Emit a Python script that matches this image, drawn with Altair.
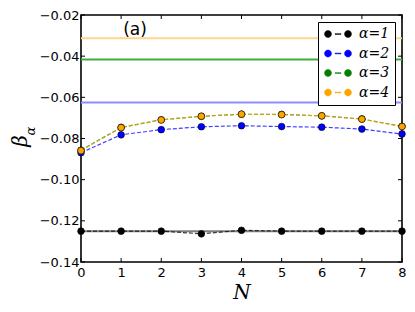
import altair as alt
import pandas as pd

N = [0, 1, 2, 3, 4, 5, 6, 7, 8]
beta1 = [-0.125, -0.125, -0.125, -0.1263, -0.1246, -0.125, -0.125, -0.125, -0.125]
beta2 = [-0.0869, -0.0782, -0.0757, -0.0743, -0.0738, -0.0742, -0.0745, -0.0754, -0.0778]
beta3 = [-0.0857, -0.0746, -0.0709, -0.0692, -0.0682, -0.0683, -0.0690, -0.0705, -0.0741]
beta4 = [-0.0859, -0.0747, -0.0710, -0.0692, -0.0682, -0.0684, -0.0690, -0.0706, -0.0742]
series_names = ["α=1", "α=2", "α=3", "α=4"]
series_colors = ["#000000", "#0000ff", "#008000", "#ffa500"]
limits = [-0.125, -0.0625, -0.041667, -0.03125]
limit_colors = ["#808080", "#8c8cff", "#3caf3c", "#fdd58c"]
x_ticks = [0, 1, 2, 3, 4, 5, 6, 7, 8]
y_ticks = [-0.14, -0.12, -0.10, -0.08, -0.06, -0.04, -0.02]

W, H = 321, 247

rows = []
for name, vals in zip(series_names, [beta1, beta2, beta3, beta4]):
    for n, v in zip(N, vals):
        rows.append({"N": n, "beta": v, "series": name})
df = pd.DataFrame(rows)
lim_df = pd.DataFrame({"y": limits, "c": limit_colors})

xs = alt.Scale(domain=[0, 8], nice=False, zero=False)
ys = alt.Scale(domain=[-0.14, -0.02], nice=False, zero=False)
cs = alt.Scale(domain=series_names, range=series_colors)

x_axis = alt.Axis(values=x_ticks, format="d", ticks=False, grid=False, domain=False,
                  labelFont="DejaVu Sans", labelFontSize=13, labelColor="black",
                  labelPadding=4, title="N", titleFont="DejaVu Serif",
                  titleFontStyle="italic", titleFontWeight="normal", titleFontSize=20,
                  titlePadding=3, titleColor="black")
y_axis = alt.Axis(values=y_ticks, format=".2f", ticks=False, grid=False, domain=False,
                  labelFont="DejaVu Sans", labelFontSize=13, labelColor="black",
                  labelPadding=2, title=None)

legend_symbol = ("M-5.4,0 a1.4,1.4 0 1,0 2.8,0 a1.4,1.4 0 1,0 -2.8,0 "
                 "M2.6,0 a1.4,1.4 0 1,0 2.8,0 a1.4,1.4 0 1,0 -2.8,0 "
                 "M-1.2,-0.15 h2.4 v0.3 h-2.4 z")
legend = alt.Legend(
    title=None, orient="top-right", offset=7, symbolType=legend_symbol,
    symbolSize=25, symbolStrokeColor="black", symbolStrokeWidth=0.5,
    symbolOpacity=1, symbolDash=[1, 0],
    labelFont="DejaVu Serif", labelFontStyle="italic", labelFontWeight="normal",
    labelFontSize=14, labelColor="black", labelOffset=14, symbolOffset=8,
    rowPadding=5.5, padding=5, strokeColor="black", fillColor="white", cornerRadius=0)

X = alt.X("N:Q", scale=xs, axis=x_axis)
Y = alt.Y("beta:Q", scale=ys, axis=y_axis)
C = alt.Color("series:N", scale=cs, legend=legend)

base = alt.Chart(df)

limit_lines = alt.Chart(lim_df).mark_rule(strokeWidth=2).encode(
    y=alt.Y("y:Q", scale=ys, axis=y_axis),
    stroke=alt.Stroke("c:N", scale=None, legend=None),
)

lines = base.mark_line(strokeDash=[4, 2], strokeWidth=1.2, opacity=0.75).encode(
    x=X, y=Y, color=C, detail="series:N",
)

points = base.mark_circle(size=45, opacity=1, stroke="black", strokeWidth=0.6).encode(
    x=X, y=Y, color=C, order=alt.Order("series:N"),
)

tick_len = 4
xt = pd.DataFrame({"t": x_ticks})
yt = pd.DataFrame({"t": y_ticks})
tick_style = dict(color="black", strokeWidth=1)
XT = alt.X("t:Q", scale=xs, axis=x_axis)
YT = alt.Y("t:Q", scale=ys, axis=y_axis)
xb = alt.Chart(xt).mark_rule(**tick_style).encode(
    x=XT, y=alt.value(H), y2=alt.value(H - tick_len))
xtop = alt.Chart(xt).mark_rule(**tick_style).encode(
    x=XT, y=alt.value(0), y2=alt.value(tick_len))
yl = alt.Chart(yt).mark_rule(**tick_style).encode(
    y=YT, x=alt.value(0), x2=alt.value(tick_len))
yr = alt.Chart(yt).mark_rule(**tick_style).encode(
    y=YT, x=alt.value(W - tick_len), x2=alt.value(W))

panel = alt.Chart(pd.DataFrame({"t": ["(a)"]})).mark_text(
    font="DejaVu Sans", fontSize=17, color="black", align="center", baseline="middle"
).encode(text="t:N", x=alt.value(54), y=alt.value(15))

ylab_b = alt.Chart(pd.DataFrame({"t": ["β"]})).mark_text(
    font="DejaVu Serif", fontStyle="italic", fontSize=20, color="black",
    angle=270, align="center", baseline="middle"
).encode(text="t:N", x=alt.value(-60), y=alt.value(126))
ylab_a = alt.Chart(pd.DataFrame({"t": ["α"]})).mark_text(
    font="DejaVu Serif", fontStyle="italic", fontSize=13, color="black",
    angle=270, align="center", baseline="middle"
).encode(text="t:N", x=alt.value(-50), y=alt.value(116))

chart = alt.layer(limit_lines, lines, points, xb, xtop, yl, yr, panel, ylab_b, ylab_a).properties(
    width=W, height=H,
    autosize=alt.AutoSizeParams(type="none"),
    padding={"left": 73, "top": 7, "right": 5, "bottom": 41},
).configure_view(stroke="black", strokeWidth=1.6).configure_axis(labelFlush=False)

chart.save("out.html", embed_options={"renderer": "svg", "actions": False})
